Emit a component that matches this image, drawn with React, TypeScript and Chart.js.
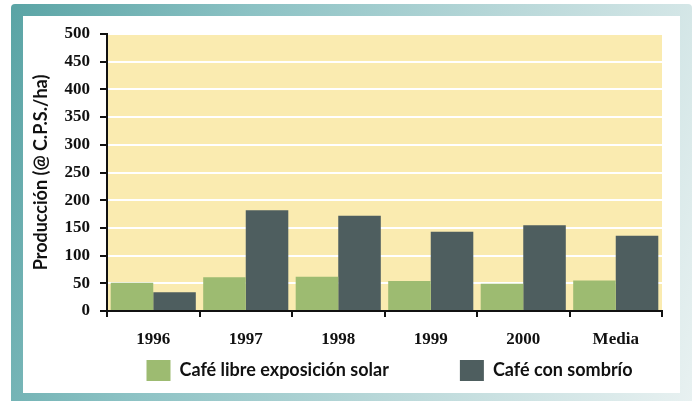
import React, { useEffect, useRef } from "react";
import { Chart, registerables } from "chart.js";

Chart.register(...registerables);

const categories = ["1996", "1997", "1998", "1999", "2000", "Media"];
const solarValues = [51, 61, 62, 54, 49, 55];
const shadeValues = [34, 182, 172, 143, 155, 136];
const seriesNames = ["Café libre exposición solar", "Café con sombrío"];
const yAxisTitle = "Producción (@ C.P.S./ha)";
const yMin = 0;
const yMax = 500;
const yStep = 50;

const GREEN = "#9dbb71";
const DARK = "#4e5e5f";
const PLOT_BG = "#faebb0";
const SANS = "Lato, 'Open Sans', sans-serif";
const SERIF = "'Liberation Serif', 'Times New Roman', serif";

const plotBg = {
  id: "plotBg",
  beforeDraw(chart: any) {
    const { ctx, chartArea } = chart;
    if (!chartArea) return;
    ctx.save();
    ctx.fillStyle = PLOT_BG;
    ctx.fillRect(chartArea.left, chartArea.top, chartArea.right - chartArea.left, chartArea.bottom - chartArea.top);
    ctx.restore();
  },
};

const LEGEND_PAD = 71;
const LEGEND_X = 146;
const LEGEND_Y = 360;
const legendPlace = {
  id: "legendPlace",
  afterLayout(chart: any) {
    const lg = chart.legend;
    if (!lg) return;
    lg.maxWidth = 2000;
    lg.maxHeight = 2000;
    lg.options.maxHeight = 2000;
    lg.fit();
    const lw = lg.lineWidths[0];
    lg.left = LEGEND_X - LEGEND_PAD;
    lg.right = lg.left + LEGEND_PAD + lw + 1;
    lg.top = LEGEND_Y - LEGEND_PAD;
    lg.bottom = 401;
    lg.width = lg.right - lg.left;
    lg.height = lg.bottom - lg.top;
  },
};

export default function App() {
  const ref = useRef<HTMLCanvasElement | null>(null);

  useEffect(() => {
    if (!ref.current) return;
    const chart = new Chart(ref.current, {
      type: "bar",
      data: {
        labels: categories,
        datasets: [
          {
            label: seriesNames[0],
            data: solarValues,
            backgroundColor: GREEN,
            borderWidth: 0,
            barPercentage: 1,
            categoryPercentage: 0.92,
          },
          {
            label: seriesNames[1],
            data: shadeValues,
            backgroundColor: DARK,
            borderWidth: 0,
            barPercentage: 1,
            categoryPercentage: 0.92,
          },
        ],
      },
      options: {
        animation: false,
        responsive: false,
        maintainAspectRatio: false,
        layout: { padding: { left: 22, top: 34, right: 32, bottom: 20 } },
        plugins: {
          tooltip: { enabled: false },
          legend: {
            position: "bottom",
            fullSize: false,
            maxHeight: 20,
            labels: {
              boxWidth: 24,
              boxHeight: 21,
              padding: LEGEND_PAD,
              color: "#111",
              font: { family: SANS, size: 18, weight: "bold" },
            },
          },
        },
        scales: {
          x: {
            afterFit: (s: any) => {
              s.height = 50;
            },
            grid: {
              display: true,
              drawOnChartArea: false,
              offset: true,
              color: "#111",
              lineWidth: 2,
              tickLength: 6,
            },
            border: { display: true, color: "#111", width: 2 },
            ticks: {
              color: "#111",
              padding: 12,
              font: { family: SERIF, size: 17, weight: "bold" },
            },
          },
          y: {
            min: yMin,
            max: yMax,
            afterFit: (s: any) => {
              s.width = 85;
            },
            grid: {
              color: "#ffffff",
              lineWidth: 2,
              tickColor: "#111",
              tickLength: 7,
            },
            border: { display: true, color: "#111", width: 2 },
            ticks: {
              stepSize: yStep,
              color: "#111",
              padding: 10,
              font: { family: SERIF, size: 17, weight: "bold" },
            },
            title: {
              display: true,
              text: yAxisTitle,
              color: "#111",
              padding: { top: 8, bottom: 0 },
              font: { family: SANS, size: 18, weight: "bold" },
            },
          },
        },
      },
      plugins: [plotBg, legendPlace],
    });
    return () => chart.destroy();
  }, []);

  return (
    <div style={{ position: "fixed", left: 0, top: 0, width: 694, height: 401, background: "#fff", overflow: "hidden" }}>
      <div
        style={{
          position: "absolute",
          left: 11,
          top: 4,
          width: 681,
          height: 400,
          borderRadius: "4px 4px 0 0",
          background: "linear-gradient(108deg, #5aa4a5 0%, #8cc2c4 30%, #b9d8d9 62%, #e8f1f1 100%)",
        }}
      />
      <div style={{ position: "absolute", left: 23, top: 16, width: 657, height: 377, background: "#fff" }} />
      <canvas ref={ref} width={694} height={401} style={{ position: "absolute", left: 0, top: 0, width: 694, height: 401 }} />
    </div>
  );
}
